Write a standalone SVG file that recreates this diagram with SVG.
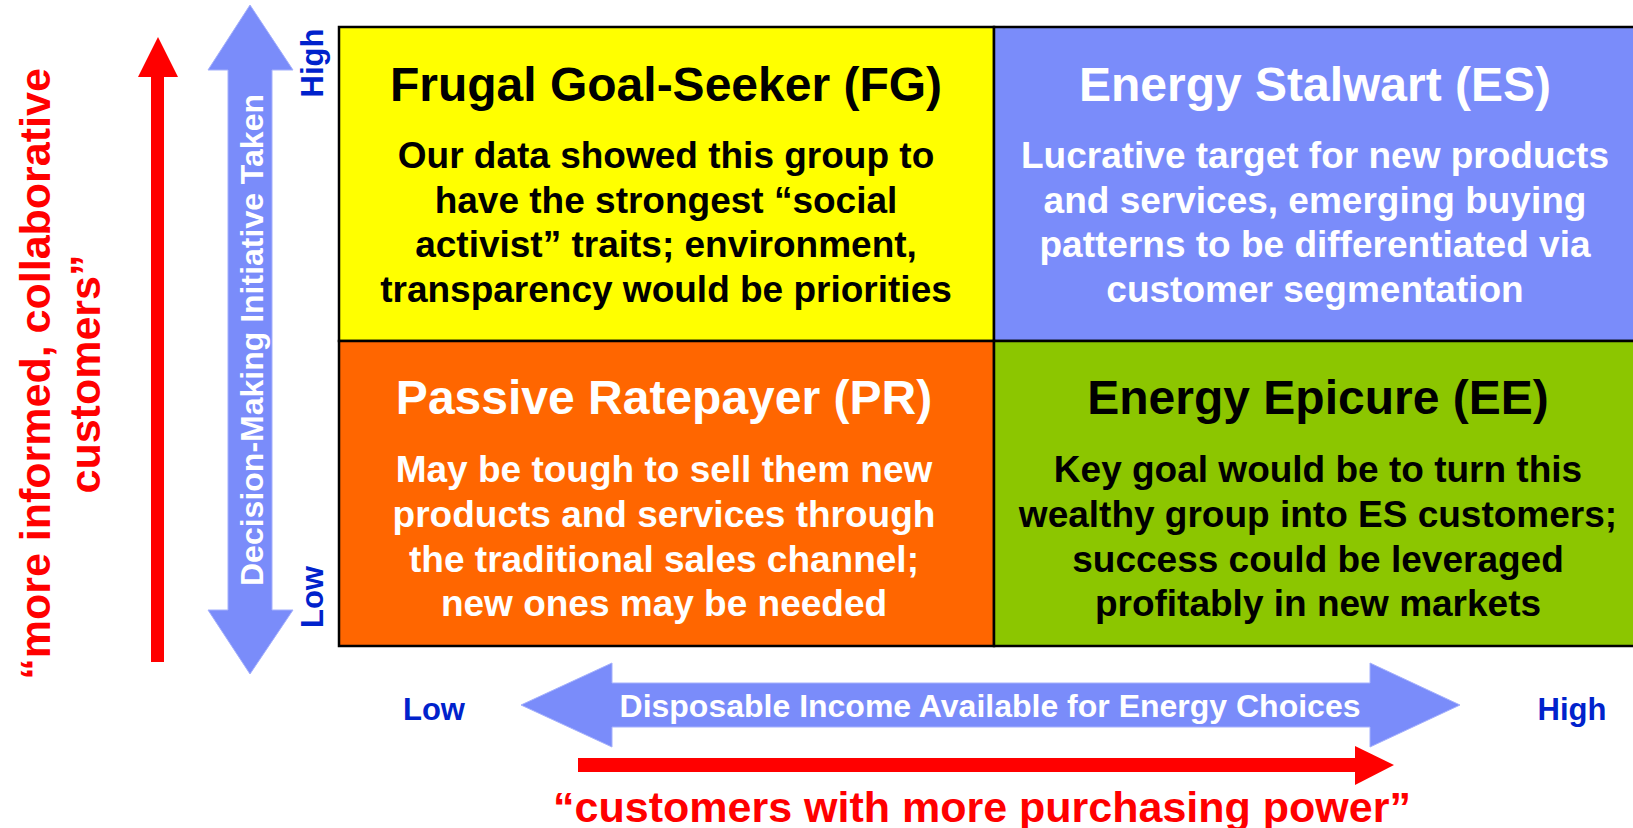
<svg xmlns="http://www.w3.org/2000/svg" width="1633" height="828" viewBox="0 0 1633 828">
  <style>
    text { font-family: "Liberation Sans", Arial, Helvetica, sans-serif; font-weight: bold; }
    .head { font-size: 48px; text-anchor: middle; }
    .body { font-size: 37px; text-anchor: middle; }
    .dark { fill: #000000; }
    .light { fill: #FFFFFF; }
    .axis { font-size: 31px; fill: #0022CC; }
    .quote { font-size: 43px; fill: #FF0000; text-anchor: middle; }
    .cell { stroke: #000000; stroke-width: 2.5; }
    .band { fill: #7A8CFA; stroke: #A4B0FC; stroke-width: 1; }
  </style>

  <!-- Quadrant: Frugal Goal-Seeker -->
  <g id="fg">
    <rect class="cell" x="339" y="27" width="655" height="314" fill="#FFFF00"/>
    <text class="head dark" x="666" y="101">Frugal Goal-Seeker (FG)</text>
    <text class="body dark" x="666" y="168">Our data showed this group to</text>
    <text class="body dark" x="666" y="213">have the strongest “social</text>
    <text class="body dark" x="666" y="257">activist” traits; environment,</text>
    <text class="body dark" x="666" y="302">transparency would be priorities</text>
  </g>

  <!-- Quadrant: Energy Stalwart -->
  <g id="es">
    <rect class="cell" x="994" y="27" width="650" height="314" fill="#7A8CFA"/>
    <text class="head light" x="1315" y="101">Energy Stalwart (ES)</text>
    <text class="body light" x="1315" y="168">Lucrative target for new products</text>
    <text class="body light" x="1315" y="213">and services, emerging buying</text>
    <text class="body light" x="1315" y="257">patterns to be differentiated via</text>
    <text class="body light" x="1315" y="302">customer segmentation</text>
  </g>

  <!-- Quadrant: Passive Ratepayer -->
  <g id="pr">
    <rect class="cell" x="339" y="341" width="655" height="305" fill="#FF6600"/>
    <text class="head light" x="664" y="414">Passive Ratepayer (PR)</text>
    <text class="body light" x="664" y="482">May be tough to sell them new</text>
    <text class="body light" x="664" y="527">products and services through</text>
    <text class="body light" x="664" y="572">the traditional sales channel;</text>
    <text class="body light" x="664" y="616">new ones may be needed</text>
  </g>

  <!-- Quadrant: Energy Epicure -->
  <g id="ee">
    <rect class="cell" x="994" y="341" width="650" height="305" fill="#8CC600"/>
    <text class="head dark" x="1318" y="414">Energy Epicure (EE)</text>
    <text class="body dark" x="1318" y="482">Key goal would be to turn this</text>
    <text class="body dark" x="1318" y="527">wealthy group into ES customers;</text>
    <text class="body dark" x="1318" y="572">success could be leveraged</text>
    <text class="body dark" x="1318" y="616">profitably in new markets</text>
  </g>

  <!-- Axes and arrows -->
  <g id="connectors">
    <!-- vertical axis band: decision-making initiative -->
    <g id="axis-initiative">
      <polygon class="band" points="250,5 293,70 272,70 272,610 293,610 250,674 208,610 228,610 228,70 208,70"/>
      <text class="light" font-size="32" text-anchor="middle" transform="translate(263,340) rotate(-90)">Decision-Making Initiative Taken</text>
      <text class="axis" text-anchor="middle" transform="translate(323,63) rotate(-90)">High</text>
      <text class="axis" text-anchor="middle" transform="translate(323,597) rotate(-90)">Low</text>
    </g>

    <!-- horizontal axis band: disposable income -->
    <g id="axis-income">
      <polygon class="band" points="521,705 612,663 612,683 1370,683 1370,663 1460,705 1370,747 1370,727 612,727 612,747"/>
      <text class="light" font-size="32" text-anchor="middle" x="990" y="717">Disposable Income Available for Energy Choices</text>
      <text class="axis" text-anchor="middle" x="434" y="720">Low</text>
      <text class="axis" text-anchor="middle" x="1572" y="720">High</text>
    </g>

    <!-- red trend arrow, vertical -->
    <g id="trend-informed">
      <rect x="151" y="76" width="13" height="586" fill="#FF0000"/>
      <polygon points="138,77 178,77 158,37" fill="#FF0000"/>
      <text class="quote" transform="translate(50,374) rotate(-90)">“more informed, collaborative</text>
      <text class="quote" transform="translate(100,374) rotate(-90)">customers”</text>
    </g>

    <!-- red trend arrow, horizontal -->
    <g id="trend-purchasing">
      <rect x="578" y="758" width="778" height="14" fill="#FF0000"/>
      <polygon points="1355,746 1355,785 1394,765" fill="#FF0000"/>
      <text class="quote" x="982" y="822">“customers with more purchasing power”</text>
    </g>
  </g>
</svg>
